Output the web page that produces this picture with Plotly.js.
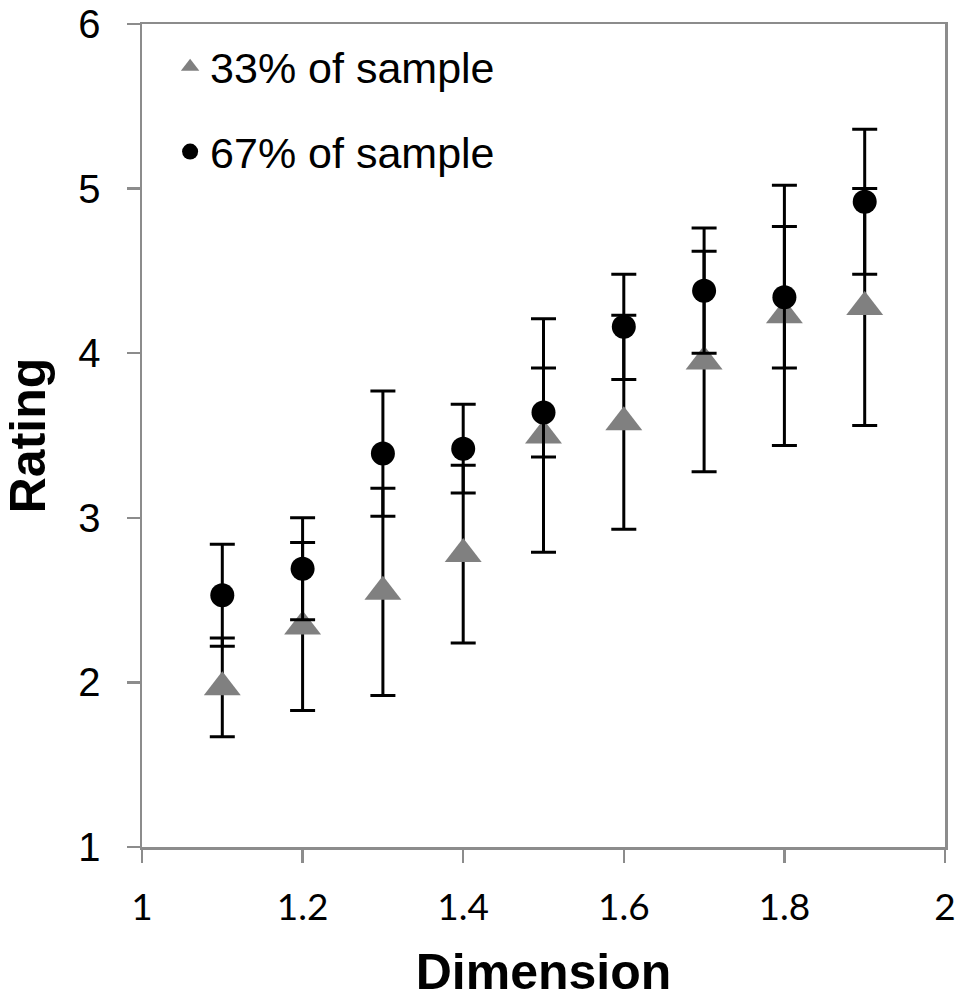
<!DOCTYPE html>
<html>
<head>
<meta charset="utf-8">
<script src="https://cdn.plot.ly/plotly-3.0.1.min.js"></script>
<style>
  body { margin: 0; background: #fff; }
  #myPlot { width: 964px; height: 1000px; }
</style>
</head>
<body>
<div id="myPlot"></div>
<script>
// dimension values on the x axis
const dims = [1.1, 1.2, 1.3, 1.4, 1.5, 1.6, 1.7, 1.8, 1.9]

// 33% of sample (grey triangles)
const rating33 = [1.97, 2.34, 2.55, 2.78, 3.50, 3.58, 3.95, 4.23, 4.28]
const err33 = [0.30, 0.51, 0.63, 0.54, 0.71, 0.65, 0.67, 0.79, 0.72]

// 67% of sample (black dots)
const rating67 = [2.53, 2.69, 3.39, 3.42, 3.64, 4.16, 4.38, 4.34, 4.92]
const err67 = [0.31, 0.31, 0.38, 0.27, 0.27, 0.32, 0.38, 0.43, 0.44]

const names = ['33% of sample', '67% of sample']
const xTicks = [1, 1.2, 1.4, 1.6, 1.8, 2]
const yTicks = [1, 2, 3, 4, 5, 6]

const axisGrey = '#8c8c8c'

const trace33 = {
    type: 'scatter',
    mode: 'markers',
    name: names[0],
    legendgroup: 'a',
    x: dims,
    y: rating33,
    error_y: { type: 'data', array: err33, visible: true, color: '#000', thickness: 3, width: 12.5 },
    marker: { symbol: 'triangle-up', size: 32, color: '#808080' }
}

const trace67 = {
    type: 'scatter',
    mode: 'markers',
    name: names[1],
    legendgroup: 'b',
    x: dims,
    y: rating67,
    error_y: { type: 'data', array: err67, visible: true, color: '#000', thickness: 3, width: 12.5 },
    marker: { symbol: 'circle', size: 24, color: '#000' }
}

const layout = {
    width: 964,
    height: 1000,
    margin: { l: 141.5, r: 19, t: 23.5, b: 153.3 },
    paper_bgcolor: '#fff',
    plot_bgcolor: '#fff',
    showlegend: true,
    legend: {
        x: 0.035, y: 0.99, xanchor: 'left', yanchor: 'top',
        traceorder: 'grouped', tracegroupgap: 26,
        font: { family: 'Liberation Sans, Arial, sans-serif', size: 43, color: '#000' },
        bgcolor: 'rgba(0,0,0,0)'
    },
    xaxis: {
        range: [1, 2],
        tickvals: xTicks,
        ticktext: xTicks.map(String),
        showgrid: false, zeroline: false,
        showline: true, linecolor: axisGrey, linewidth: 2.5, mirror: true,
        ticks: 'outside', ticklen: 13, tickwidth: 2.5, tickcolor: axisGrey,
        ticklabelstandoff: 13,
        tickfont: { family: 'Lato, sans-serif', size: 37, color: '#000' },
        title: { text: 'Dimension', standoff: 28, font: { family: 'Liberation Sans, Arial, sans-serif', size: 50, color: '#000', weight: 'bold' } }
    },
    yaxis: {
        range: [1, 6],
        tickvals: yTicks,
        ticktext: yTicks.map(String),
        showgrid: false, zeroline: false,
        showline: true, linecolor: axisGrey, linewidth: 2.5, mirror: true,
        ticks: 'outside', ticklen: 13, tickwidth: 2.5, tickcolor: axisGrey,
        ticklabelstandoff: 18,
        tickfont: { family: 'Liberation Sans, Arial, sans-serif', size: 40, color: '#000' },
        title: { text: 'Rating', standoff: 18, font: { family: 'Liberation Sans, Arial, sans-serif', size: 50, color: '#000', weight: 'bold' } }
    }
}

Plotly.newPlot('myPlot', [trace33, trace67], layout, { displayModeBar: false, staticPlot: true })
</script>
</body>
</html>
